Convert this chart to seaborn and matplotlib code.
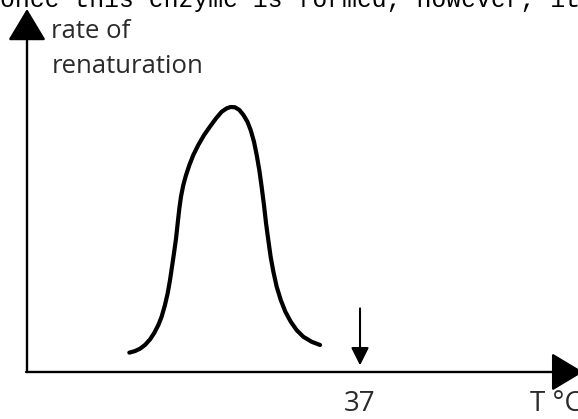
import numpy as np
import pandas as pd
import matplotlib
matplotlib.use("Agg")
import matplotlib.pyplot as plt
import seaborn as sns

# curve: temperature vs rate of renaturation (peak = 1)
temp = [11.37, 12.00, 12.56, 13.11, 13.67, 14.15, 14.59, 14.96, 15.33, 15.63,
        15.89, 16.11, 16.33, 16.56, 16.74, 16.93, 17.11, 17.37, 17.67, 18.04,
        18.48, 19.04, 19.67, 20.33, 21.00, 21.63, 22.19, 22.63, 23.11, 23.59,
        24.04, 24.48, 24.85, 25.22, 25.52, 25.81, 26.07, 26.33, 26.56, 26.81,
        27.07, 27.37, 27.74, 28.19, 28.70, 29.30, 29.96, 30.70, 31.63, 32.56]
rate = [0.073, 0.079, 0.088, 0.102, 0.123, 0.148, 0.177, 0.209, 0.253, 0.297,
        0.347, 0.397, 0.448, 0.504, 0.561, 0.618, 0.662, 0.706, 0.743, 0.781,
        0.819, 0.857, 0.894, 0.926, 0.957, 0.982, 0.995, 1.000, 0.999, 0.989,
        0.970, 0.945, 0.913, 0.869, 0.819, 0.762, 0.699, 0.630, 0.561, 0.498,
        0.435, 0.379, 0.322, 0.272, 0.228, 0.190, 0.158, 0.133, 0.114, 0.102]
marked_temp = 37
tick_label = "37"
x_label = "T \u00b0C"
y_label_lines = ["rate of", "renaturation"]
top_text = "once this enzyme is formed, however, it"

df = pd.DataFrame({"T": temp, "rate": rate})

sns.set_style("white")
plt.rcParams["font.family"] = ["Open Sans", "DejaVu Sans"]

fig = plt.figure(figsize=(5.78, 4.19), dpi=100)
ax = fig.add_axes([0, 0, 1, 1])
ax.set_xlim(-3, 61.22)
ax.set_ylim(-0.1774, 1.4038)
ax.axis("off")

sns.lineplot(data=df, x="T", y="rate", ax=ax, color="black", lw=3,
             solid_capstyle="round", solid_joinstyle="round", sort=False)

# axes with arrow heads
arrow = dict(arrowstyle="-|>,head_length=1.0,head_width=0.6", lw=1.7,
             color="black", mutation_scale=20, shrinkA=0, shrinkB=0)
ax.annotate("", xy=(0, 1.37), xytext=(0, 0), arrowprops=arrow,
            annotation_clip=False)
ax.annotate("", xy=(61.8, 0), xytext=(-0.1, 0), arrowprops=arrow,
            annotation_clip=False)

# marker arrow at 37
small = dict(arrowstyle="-|>,head_length=0.9,head_width=0.45", lw=1.5,
             color="black", mutation_scale=12, shrinkA=0, shrinkB=0)
ax.annotate("", xy=(marked_temp, 0.025), xytext=(marked_temp, 0.24),
            arrowprops=small)

ax.text(marked_temp, -0.12, tick_label, ha="center", va="center",
        fontsize=20, color="#2a2a2a")
ax.text(55.9, -0.12, x_label, ha="left", va="center", fontsize=20,
        color="#2a2a2a")
ax.text(2.7, 1.26, y_label_lines[0], ha="left", va="baseline", fontsize=18.5,
        color="#2a2a2a")
ax.text(2.7, 1.128, y_label_lines[1], ha="left", va="baseline", fontsize=18.5,
        color="#2a2a2a")

fig.text(0.0, 1 - 7 / 419, top_text, ha="left", va="baseline",
         family=["Liberation Mono", "DejaVu Sans Mono"], fontsize=17.8,
         color="black")

fig.savefig("out.png", dpi=100)
